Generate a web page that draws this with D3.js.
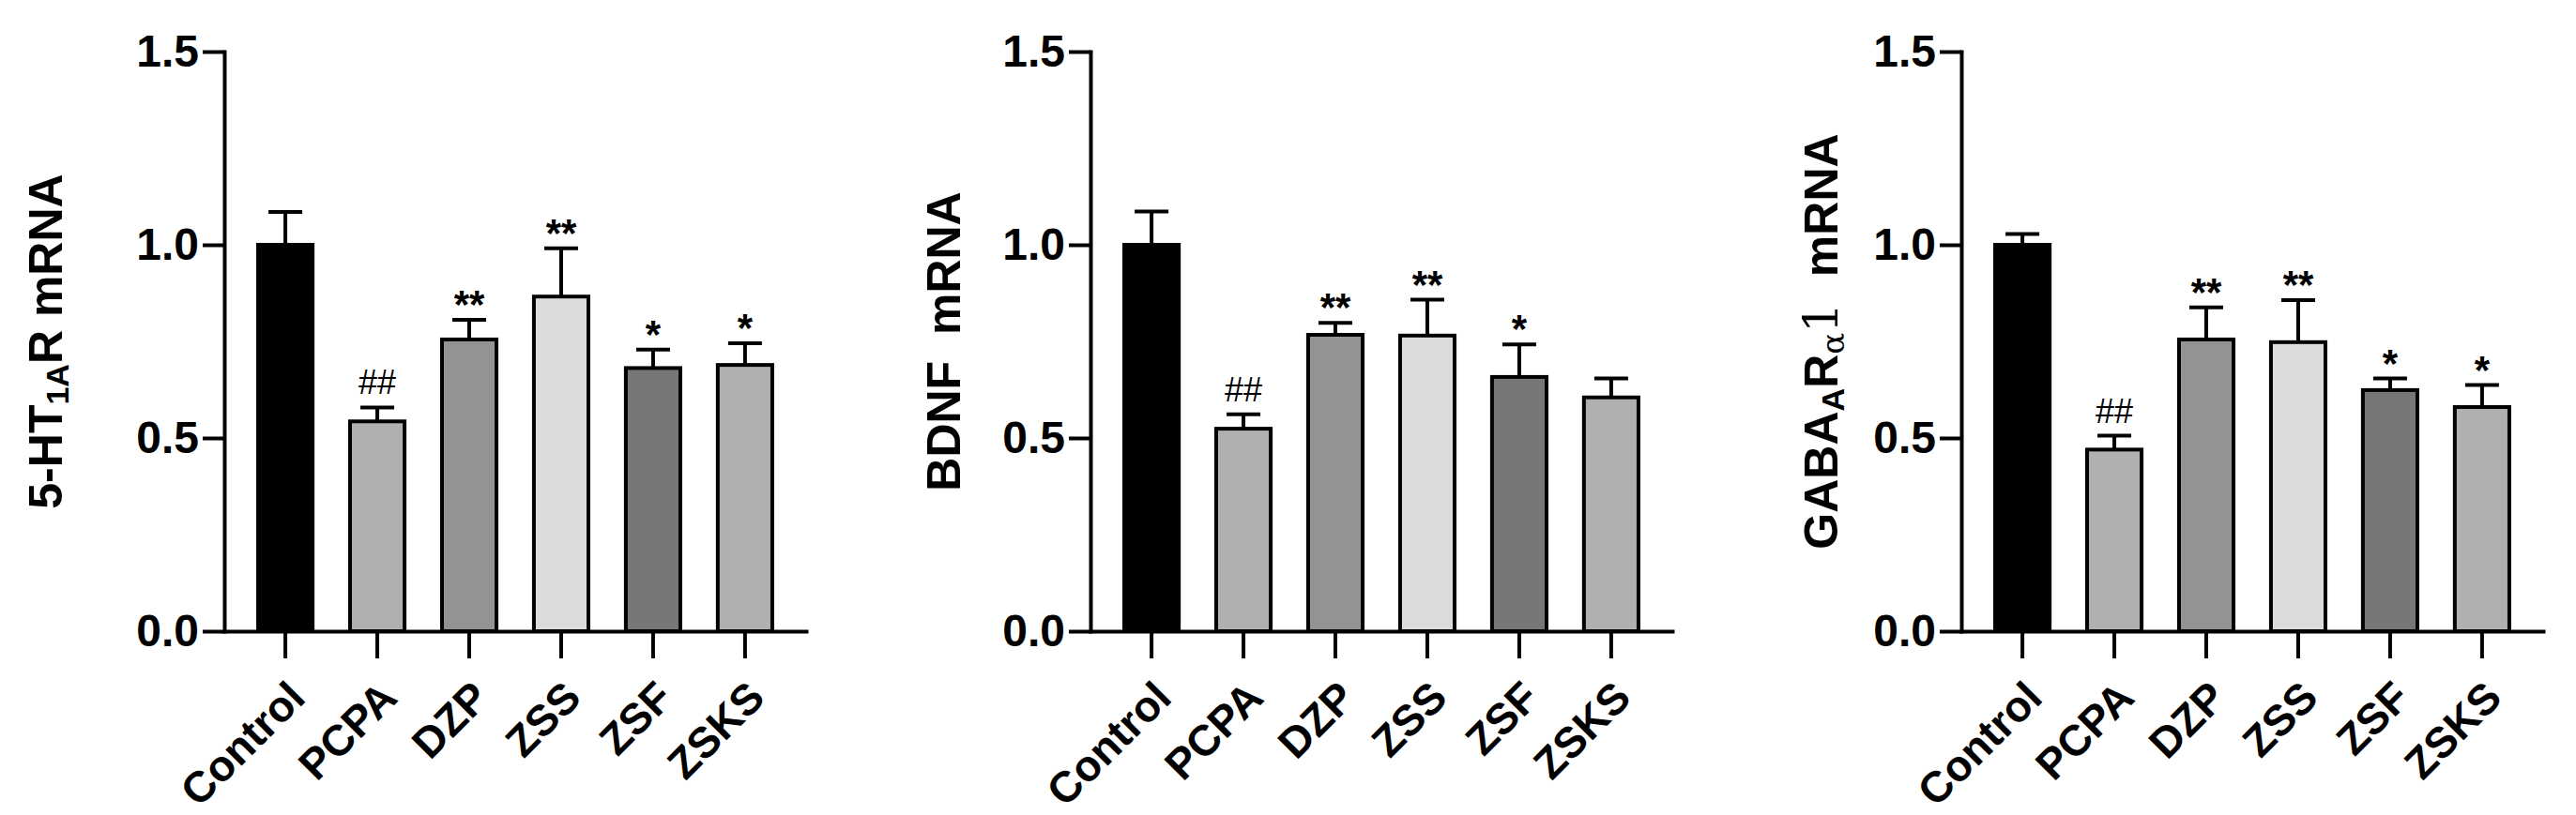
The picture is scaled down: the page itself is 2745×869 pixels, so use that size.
<!DOCTYPE html>
<html>
<head>
<meta charset="utf-8">
<script src="https://cdn.jsdelivr.net/npm/d3@7"></script>
<style>
  body { margin: 0; background: #fff; }
  text { font-family: "Liberation Sans", Arial, sans-serif; }
</style>
</head>
<body>
<svg id="chart" width="2745" height="869"></svg>
<script>
// groups and fills
const groups = ["Control", "PCPA", "DZP", "ZSS", "ZSF", "ZSKS"];
const fills = ["#000000", "#b0b0b0", "#939393", "#dcdcdc", "#777777", "#b0b0b0"];
const yTicks = [0, 0.5, 1.0, 1.5];

// 5-HT1A R mRNA
const htMean = [1.0, 0.543, 0.755, 0.866, 0.681, 0.689];
const htErr  = [1.085, 0.579, 0.806, 0.991, 0.729, 0.745];
const htSig  = ["", "##", "**", "**", "*", "*"];

// BDNF mRNA
const bdnfMean = [1.0, 0.524, 0.767, 0.765, 0.658, 0.605];
const bdnfErr  = [1.086, 0.561, 0.798, 0.858, 0.742, 0.654];
const bdnfSig  = ["", "##", "**", "**", "*", ""];

// GABAA Ra1 mRNA
const gabaMean = [1.0, 0.470, 0.755, 0.748, 0.624, 0.580];
const gabaErr  = [1.028, 0.506, 0.838, 0.857, 0.654, 0.637];
const gabaSig  = ["", "##", "**", "**", "*", "*"];

const svg = d3.select("#chart");
const yTop = 55, yBottom = 673, plotW = 620;

const y = d3.scaleLinear().domain([0, 1.5]).range([yBottom, yTop]);
const x = d3.scaleBand().domain(groups).range([0, plotW])
  .paddingInner(0.407).paddingOuter(0.368);

function panel(left, labelX, mean, err, sig, labelParts) {
  const g = svg.append("g").attr("transform", `translate(${left},0)`);

  // bars
  g.selectAll("rect.bar")
    .data(groups)
    .enter().append("rect")
    .attr("class", "bar")
    .attr("x", d => x(d))
    .attr("y", (d, i) => y(mean[i]))
    .attr("width", x.bandwidth())
    .attr("height", (d, i) => y(0) - y(mean[i]))
    .attr("fill", (d, i) => fills[i])
    .attr("stroke", "#000")
    .attr("stroke-width", 4);

  // error bars (upper only)
  const cx = d => x(d) + x.bandwidth() / 2;
  g.selectAll("line.err")
    .data(groups)
    .enter().append("line")
    .attr("x1", cx).attr("x2", cx)
    .attr("y1", (d, i) => y(mean[i]))
    .attr("y2", (d, i) => y(err[i]))
    .attr("stroke", "#000").attr("stroke-width", 4);
  g.selectAll("line.cap")
    .data(groups)
    .enter().append("line")
    .attr("x1", d => cx(d) - 18).attr("x2", d => cx(d) + 18)
    .attr("y1", (d, i) => y(err[i]))
    .attr("y2", (d, i) => y(err[i]))
    .attr("stroke", "#000").attr("stroke-width", 4);

  // significance marks
  g.selectAll("text.sig")
    .data(groups)
    .enter().append("text")
    .attr("x", cx)
    .attr("y", (d, i) => y(err[i]) - (sig[i] === "##" ? 14 : 2))
    .attr("text-anchor", "middle")
    .attr("font-size", (d, i) => sig[i] === "##" ? 36 : 42)
    .attr("font-weight", (d, i) => sig[i] === "##" ? "normal" : "bold")
    .text((d, i) => sig[i]);

  // axes
  const ax = g.append("g")
    .attr("transform", `translate(0,${yBottom})`)
    .call(d3.axisBottom(x).tickSize(29).tickSizeOuter(0).tickFormat(""));
  const ay = g.append("g")
    .call(d3.axisLeft(y).tickValues(yTicks).tickSize(23).tickSizeOuter(0).tickPadding(4)
      .tickFormat(d3.format(".1f")));
  [ax, ay].forEach(a => {
    a.select(".domain").attr("stroke-width", 4).attr("stroke-linecap", "square");
    a.selectAll(".tick line").attr("stroke-width", 4);
  });
  ay.selectAll(".tick text")
    .attr("font-size", 48).attr("font-weight", "bold").attr("fill", "#000")
    .attr("font-family", "'Liberation Sans', Arial, sans-serif");

  // x labels rotated
  g.selectAll("text.xl")
    .data(groups)
    .enter().append("text")
    .attr("transform", d => `translate(${cx(d) + 12},${yBottom + 62}) rotate(-45)`)
    .attr("text-anchor", "end")
    .attr("dy", "0.35em")
    .attr("font-size", 46)
    .attr("font-weight", "bold")
    .text(d => d);

  // y label
  const t = svg.append("text")
    .attr("transform", `translate(${labelX},${(yTop + yBottom) / 2}) rotate(-90)`)
    .attr("text-anchor", "middle")
    .attr("font-size", 50)
    .attr("font-weight", "bold")
    .style("white-space", "pre");
  labelParts.forEach(p => {
    const s = t.append("tspan").text(p.t);
    if (p.sub) s.attr("font-size", 34).attr("baseline-shift", "-20%");
    if (p.thin) s.attr("font-weight", "normal").attr("font-family", "'DejaVu Serif', serif");
  });
}

panel(239, 66, htMean, htErr, htSig, [
  { t: "5-HT" }, { t: "1A", sub: true }, { t: "R mRNA" }
]);
panel(1162, 1023, bdnfMean, bdnfErr, bdnfSig, [
  { t: "BDNF  mRNA" }
]);
panel(2090, 1958, gabaMean, gabaErr, gabaSig, [
  { t: "GABA" }, { t: "A", sub: true }, { t: "R" }, { t: "α", sub: true, thin: true },
  { t: "1", thin: true }, { t: "  mRNA" }
]);
</script>
</body>
</html>
